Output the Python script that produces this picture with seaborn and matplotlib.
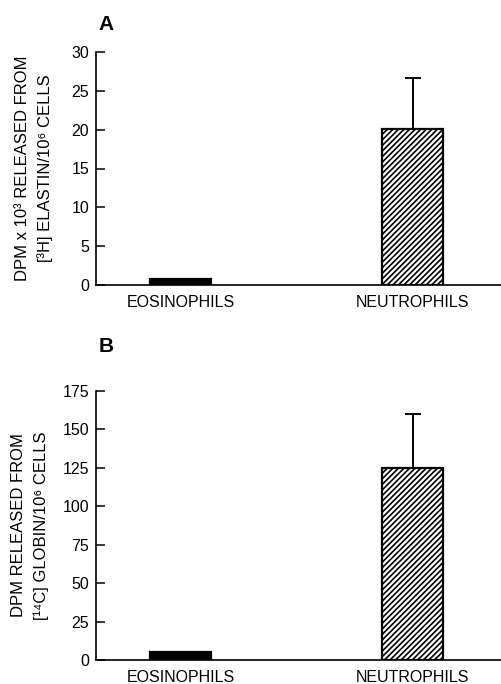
import matplotlib

matplotlib.use("Agg")

import matplotlib.pyplot as plt
import pandas as pd
import seaborn as sns

cells = ["EOSINOPHILS", "NEUTROPHILS"]
elastin_mean = [0.8, 20.1]
elastin_err = [0, 6.5]
globin_mean = [5, 125]
globin_err = [0, 35]

elastin_ticks = [0, 5, 10, 15, 20, 25, 30]
globin_ticks = [0, 25, 50, 75, 100, 125, 150, 175]

sns.set_theme(style="ticks")
plt.rcParams["font.family"] = ["Liberation Sans", "DejaVu Sans"]
plt.rcParams["hatch.linewidth"] = 1.2
plt.rcParams["hatch.color"] = "black"
plt.rcParams["text.color"] = "black"
plt.rcParams["axes.labelcolor"] = "black"
plt.rcParams["axes.edgecolor"] = "black"
plt.rcParams["xtick.color"] = "black"
plt.rcParams["ytick.color"] = "black"

fig = plt.figure(figsize=(5.01, 6.84), dpi=100)
ax_a = fig.add_axes([96 / 501, 1 - 285 / 684, 1 - 96 / 501, (285 - 52) / 684])
ax_b = fig.add_axes([96 / 501, 1 - 660 / 684, 1 - 96 / 501, (660 - 391) / 684])

palette = {"EOSINOPHILS": "black", "NEUTROPHILS": "white"}


def draw_panel(ax, means, errs, ticks, ylabel, labelpad):
    df = pd.DataFrame({"cell": cells, "value": means})
    sns.barplot(
        data=df, x="cell", y="value", hue="cell", palette=palette,
        width=0.263, edgecolor="black", linewidth=1.6, legend=False,
        ax=ax, saturation=1,
    )
    for patch, cell in zip(ax.patches, cells):
        if cell == "NEUTROPHILS":
            patch.set_hatch("//////")
    for i, (m, e) in enumerate(zip(means, errs)):
        if e > 0:
            ax.errorbar(i, m, yerr=[[0], [e]], fmt="none", ecolor="black",
                        elinewidth=1.4, capsize=6, capthick=1.4, zorder=1)
    ax.set_xlim(-0.364, 1.381)
    ax.set_ylim(0, ticks[-1])
    ax.set_yticks(ticks)
    ax.set_xlabel("")
    ax.set_ylabel(ylabel, fontsize=12, linespacing=1.6, labelpad=labelpad)
    sns.despine(ax=ax)
    for side in ["left", "bottom"]:
        ax.spines[side].set_linewidth(1.2)
    ax.tick_params(axis="y", direction="in", length=6.5, width=1.1,
                   labelsize=11.5, pad=5)
    ax.tick_params(axis="x", length=0, labelsize=11.5, pad=7)


draw_panel(ax_a, elastin_mean, elastin_err, elastin_ticks,
           "DPM x 10³ RELEASED FROM\n[³H] ELASTIN/10⁶ CELLS", 13)
draw_panel(ax_b, globin_mean, globin_err, globin_ticks,
           "DPM RELEASED FROM\n[¹⁴C] GLOBIN/10⁶ CELLS", 10)

fig.text(106 / 501, 1 - 24 / 684, "A", fontsize=15, fontweight="bold",
         ha="center", va="center")
fig.text(106 / 501, 1 - 347 / 684, "B", fontsize=15, fontweight="bold",
         ha="center", va="center")

fig.savefig("out.png", dpi=100)
